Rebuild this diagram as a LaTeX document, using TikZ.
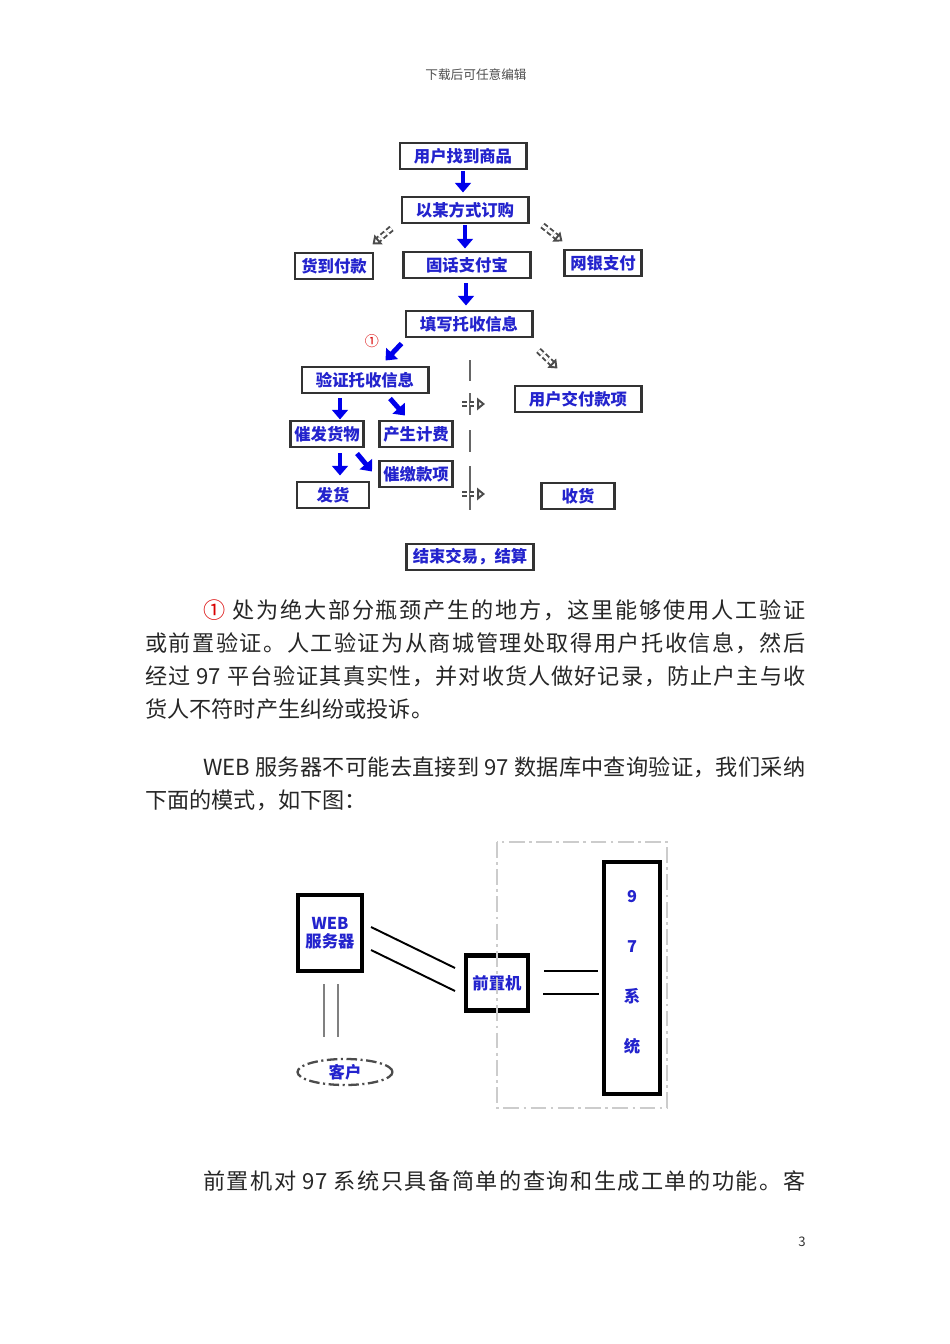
\documentclass[tikz,border=0pt]{standalone}
\usepackage{fontspec}
\setmainfont{Noto Sans CJK SC}
\usetikzlibrary{arrows.meta,shapes.geometric}
\definecolor{flowblue}{RGB}{0,0,235}
\definecolor{textblue}{RGB}{35,35,205}
\makeatletter
\newcommand\spreadline[2]{\hbox to #1{\@tfor\spread@c:=#2\do{\spread@c\hfil}\unskip}}
\makeatother
\tikzset{
  flowbox/.style={draw=black!80, line width=1.7pt, fill=white, text=textblue,
    font=\fontsize{9.3}{11}\selectfont\bfseries, minimum height=5.2mm, inner sep=1pt},
  sysbox/.style={draw=black, line width=2.3pt, fill=white, text=textblue,
    font=\fontsize{9.3}{10}\selectfont\bfseries, inner sep=1pt},
  bluearrow/.style={draw=flowblue, line width=2.8pt, -{Triangle[width=9pt,length=5.5pt]}},
  grayarrow/.style={draw=black!70, double=white, double distance=1.6pt, line width=1.1pt,
    dash pattern=on 2.8pt off 1.5pt, -{Triangle[open,width=7pt,length=4.5pt]}},
  grayline/.style={draw=black!60, line width=1.2pt},
  bodyline/.style={anchor=west, inner sep=0pt, text=black!85, font=\fontsize{12.6}{15}\selectfont},
}
\begin{document}
\begin{tikzpicture}[x=0.2mm,y=-0.2mm]
\useasboundingbox (0,0) rectangle (950,1344);
\node[text=black!70, font=\fontsize{7.2}{8}\selectfont] (header) at (476,75) {下载后可任意编辑};

% order flow
\node[flowbox, minimum width=25.2mm] (find) at (463,156) {用户找到商品};
\node[flowbox, minimum width=25.2mm] (order) at (465,210) {以某方式订购};
\node[flowbox, minimum width=15.6mm] (cod) at (334,266) {货到付款};
\node[flowbox, minimum width=25.4mm] (phonepay) at (467,265) {固话支付宝};
\node[flowbox, minimum width=15.4mm] (netpay) at (603,263) {网银支付};
\node[flowbox, minimum width=25.2mm] (fillinfo) at (469,324) {填写托收信息};
\node[flowbox, minimum width=25.2mm] (checkinfo) at (365,380) {验证托收信息};
\node[flowbox, minimum width=25.2mm] (userpay) at (578,399) {用户交付款项};
\node[flowbox, minimum width=14.6mm] (urgeship) at (327,434) {催发货物};
\node[flowbox, minimum width=14.6mm] (billing) at (416,434) {产生计费};
\node[flowbox, minimum width=14.6mm] (urgepay) at (416,474) {催缴款项};
\node[flowbox, minimum width=14.4mm] (ship) at (333,495) {发货};
\node[flowbox, minimum width=14.6mm] (receive) at (578,496) {收货};
\node[flowbox, minimum width=25.4mm] (settle) at (470,557) {结束交易，结算};
\node[text=red!85!black, font=\fontsize{8}{8}\selectfont] (mark) at (372,341) {①};

\draw[bluearrow] (find.south) ++(0,1) -- ++(0,21);
\draw[bluearrow] (order.south) ++(0,1) -- ++(0,23);
\draw[bluearrow] (phonepay.south) ++(-1,4) -- ++(0,22);
\draw[bluearrow] (fillinfo.south west) ++(-3,5) -- ++(-16,17);
\draw[bluearrow] ([xshift=-5mm]checkinfo.south) ++(0,4) -- ++(0,21);
\draw[bluearrow] ([xshift=5mm]checkinfo.south) ++(0,4) -- ++(15,17);
\draw[bluearrow] ([xshift=2.6mm]urgeship.south) ++(0,5) -- ++(0,22);
\draw[bluearrow] ([xshift=6mm]urgeship.south) ++(0,5) -- ++(15,18);

\draw[grayarrow] (order.south west) ++(-9,4) -- ++(-19,16);
\draw[grayarrow] (order.south east) ++(13,1) -- ++(20,16);
\draw[grayarrow] (fillinfo.south east) ++(5,12) -- ++(19,18);
\foreach \a/\b in {360/381, 393/415, 430/452, 466/510}
  \draw[grayline] (470,\a) -- (470,\b);
\foreach \y in {404,494}
  \draw[grayarrow] (462,\y) -- (485,\y);

% text
\node[bodyline] (para1) at (203,610)
  {\spreadline{120.4mm}{{{\color{red!85!black}①~}}处为绝大部分瓶颈产生的地方，这里能够使用人工验证}};
\node[bodyline] (para2) at (145,643)
  {\spreadline{132mm}{或前置验证。人工验证为从商城管理处取得用户托收信息，然后}};
\node[bodyline] (para3) at (145,676)
  {\spreadline{132mm}{经过{~97~}平台验证其真实性，并对收货人做好记录，防止户主与收}};
\node[bodyline] (para4) at (145,709) {货人不符时产生纠纷或投诉。};
\node[bodyline] (para5) at (203,767)
  {\spreadline{120.4mm}{{WEB~}服务器不可能去直接到{~97~}数据库中查询验证，我们采纳}};
\node[bodyline] (para6) at (145,800) {下面的模式，如下图：};

% front machine
\node[sysbox, minimum width=12.8mm, minimum height=15.2mm, align=center] (web) at (330,933) {WEB\\服务器};
\node[sysbox, minimum width=12.4mm, minimum height=11mm] (front) at (497,983) {前置机};
\node[sysbox, minimum width=11.2mm, minimum height=46.4mm] (sys) at (632,978) {};
\node[text=textblue, font=\fontsize{9.3}{28.4}\selectfont\bfseries, align=center] (systext) at (632,972) {9\\7\\系\\统};
\node[ellipse, draw=black!70, line width=1.3pt, dash pattern=on 6pt off 2pt on 1.2pt off 2pt,
  minimum width=19mm, minimum height=5.2mm, inner sep=0pt, text=textblue,
  font=\fontsize{9.3}{10}\selectfont\bfseries] (client) at (345,1072) {客户};

\draw[line width=1.1pt] (web.east) ++(7,-6) -- ++(84,41);
\draw[line width=1.1pt] (web.east) ++(7,17) -- ++(84,41);
\draw[line width=1.1pt] (front.east) ++(14,-12) -- ++(54,0);
\draw[line width=1.1pt] (front.east) ++(13,11) -- ++(56,0);
\draw[black!50, line width=0.9pt] (web.south) ++(-6,11) -- ++(0,53) (web.south) ++(8,11) -- ++(0,53);
\draw[black!20, line width=1.1pt, dash pattern=on 9pt off 2.5pt on 1.5pt off 2.5pt] (497,842) rectangle (667,1108);

\node[bodyline] (para7) at (203,1181)
  {\spreadline{120.4mm}{前置机对{~97~}系统只具备简单的查询和生成工单的功能。客}};
\node[text=black!80, font=\fontsize{7.5}{8}\selectfont] (pagenum) at (802,1242) {3};
\end{tikzpicture}
\end{document}
